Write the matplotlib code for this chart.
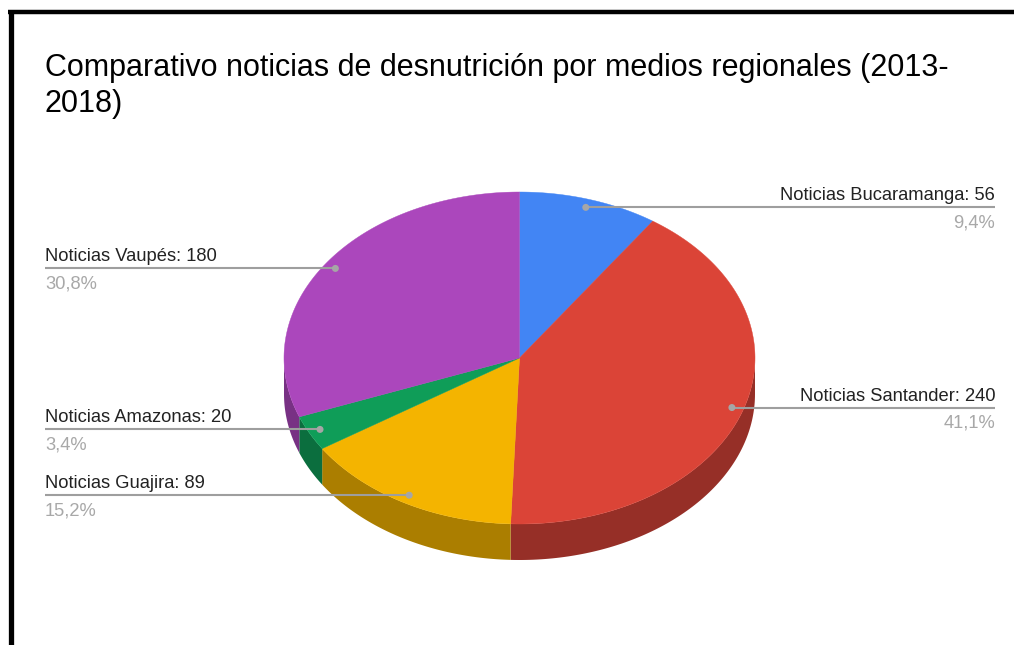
import numpy as np
import matplotlib
matplotlib.use("Agg")
from matplotlib import pyplot as plt
from matplotlib.patches import Polygon, Circle

plt.rcParams['font.family'] = ['Liberation Sans', 'DejaVu Sans']

# Data
labels = ['Noticias Bucaramanga', 'Noticias Santander', 'Noticias Guajira',
          'Noticias Amazonas', 'Noticias Vaupés']
values = [56, 240, 89, 20, 180]
pct_labels = ['9,4%', '41,1%', '15,2%', '3,4%', '30,8%']
colors = ['#4285F4', '#DB4437', '#F4B400', '#0F9D58', '#AB47BC']
side_colors = ['#2e5daa', '#962f27', '#ab7e00', '#0b6e3e', '#783184']
title_lines = ['Comparativo noticias de desnutrición por medios regionales (2013-',
               '2018)']

# Layout (pixels)
W, H = 1014, 645
cx, cy = 519.5, 358
rx, ry = 235.5, 166
depth = 36


def pt(theta, f=1.0, dy=0.0):
    # theta in degrees, 0 = top, clockwise
    t = np.radians(theta)
    return cx + rx * f * np.sin(t), cy - ry * f * np.cos(t) + dy


fig = plt.figure(figsize=(W / 100, H / 100), dpi=100)
ax = fig.add_axes([0, 0, 1, 1])
ax.set_xlim(0, W)
ax.set_ylim(H, 0)
ax.axis('off')

total = sum(values)
bounds = np.concatenate([[0], np.cumsum(values)]) / total * 360

# Side walls (front half only)
for i in range(len(values)):
    a0, a1 = max(bounds[i], 90), min(bounds[i + 1], 270)
    if a1 <= a0:
        continue
    th = np.linspace(a0, a1, 100)
    xs, ys = pt(th)
    top = np.column_stack([xs, ys])
    bot = np.column_stack([xs, ys + depth])[::-1]
    ax.add_patch(Polygon(np.vstack([top, bot]), closed=True,
                         facecolor=side_colors[i], edgecolor='none', zorder=1))

# Top faces
for i in range(len(values)):
    th = np.linspace(bounds[i], bounds[i + 1], 200)
    xs, ys = pt(th)
    verts = np.vstack([[cx, cy], np.column_stack([xs, ys])])
    ax.add_patch(Polygon(verts, closed=True, facecolor=colors[i],
                         edgecolor=colors[i], linewidth=0.3, zorder=2))

# Labels with leader lines
for i in range(len(values)):
    mid = (bounds[i] + bounds[i + 1]) / 2
    dx, dy = pt(mid, 0.95)
    if mid < 180:
        x_end, ha = 995, 'right'
    else:
        x_end, ha = 45, 'left'
    ax.plot([dx, x_end], [dy, dy], color='#9e9e9e', lw=1.5, zorder=3,
            solid_capstyle='butt')
    ax.add_patch(Circle((dx, dy), 3.5, facecolor='#a6a6a6', edgecolor='none',
                        zorder=4))
    ax.text(x_end, dy - 7, f'{labels[i]}: {values[i]}', ha=ha, va='baseline',
            fontsize=13.2, color='#222222')
    ax.text(x_end, dy + 20, pct_labels[i], ha=ha, va='baseline', fontsize=13.2,
            color='#a8a8a8')

# Title
for k, line in enumerate(title_lines):
    ax.text(45, 76 + 36 * k, line, ha='left', va='baseline', fontsize=22,
            color='#000000')

# Border (top and left)
ax.plot([8, W], [11.5, 11.5], color='black', lw=3.2, solid_capstyle='butt')
ax.plot([10.5, 10.5], [10, H], color='black', lw=3.8, solid_capstyle='butt')

fig.savefig('out.png', dpi=100)
